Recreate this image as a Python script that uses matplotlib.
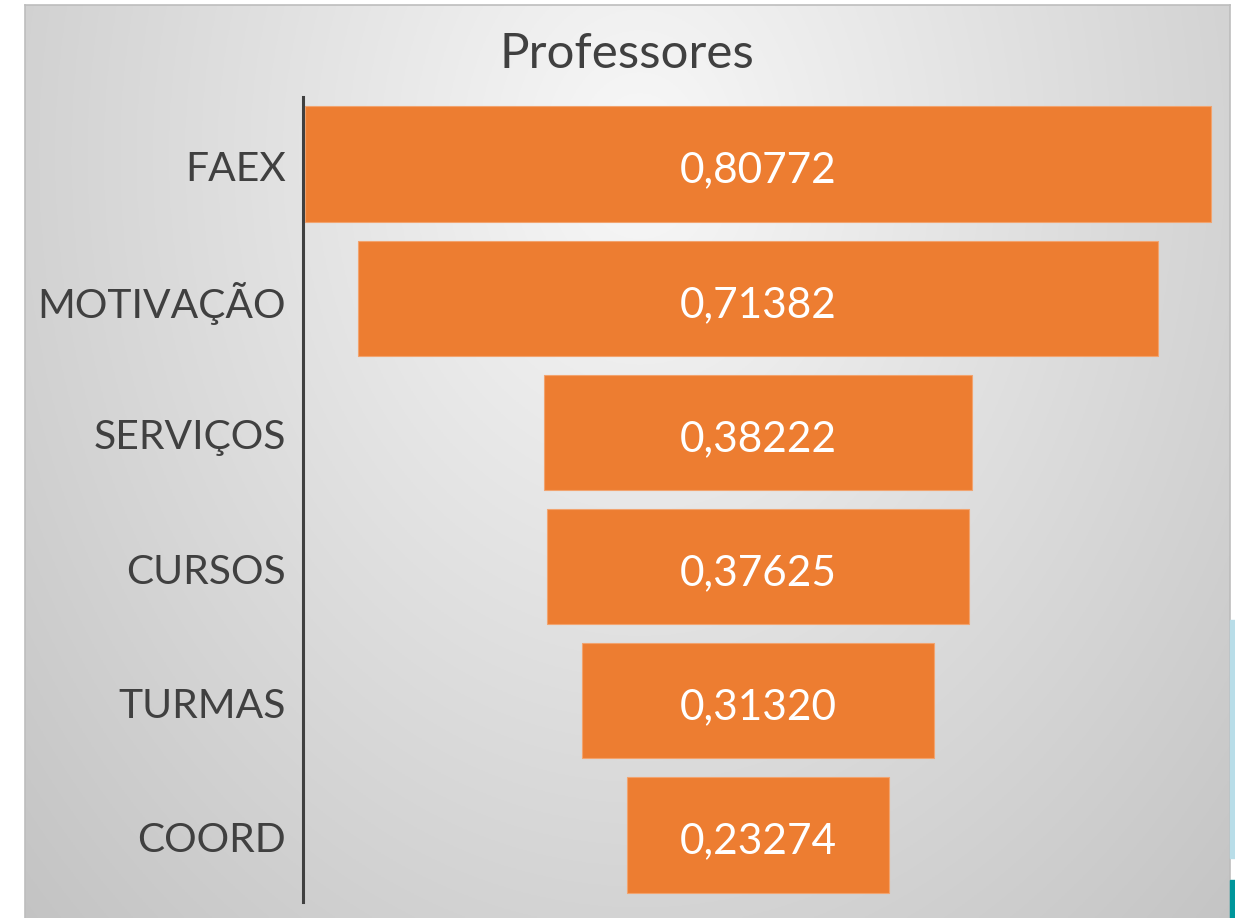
import numpy as np
import matplotlib.pyplot as plt
from matplotlib.patches import Rectangle

categorias = ["FAEX", "MOTIVAÇÃO", "SERVIÇOS", "CURSOS", "TURMAS", "COORD"]
valores = [0.80772, 0.71382, 0.38222, 0.37625, 0.31320, 0.23274]
rotulos = ["0,80772", "0,71382", "0,38222", "0,37625", "0,31320", "0,23274"]
titulo = "Professores"

plt.rcParams['font.family'] = ['Lato', 'DejaVu Sans']

W, H = 1235, 918
fig = plt.figure(figsize=(W / 100, H / 100), dpi=100)
fig.patch.set_facecolor('white')

# painel de fundo com gradiente radial
px0, px1, py0, py1 = 25, 1230, 5, 918
bg = fig.add_axes([px0 / W, 0, (px1 - px0) / W, (py1 - py0) / H])
xx, yy = np.meshgrid(np.linspace(0, px1 - px0, 400), np.linspace(0, py1 - py0, 400))
r = np.sqrt(((xx - 615) / 700) ** 2 + ((yy - 150) / 900) ** 2)
g = np.clip(248 - 43 * r, 190, 250) / 255
bg.imshow(np.dstack([g, g, g]), aspect='auto', extent=(0, 1, 0, 1), origin='upper')
bg.set_xticks([])
bg.set_yticks([])
for s in bg.spines.values():
    s.set_color('#bdbdbd')
    s.set_linewidth(1.2)
bg.spines['bottom'].set_visible(False)
bg.set_zorder(0)

# pequenos detalhes na borda direita
fig.patches.append(Rectangle((1230 / W, 1 - 858 / H), 5 / W, 238 / H,
                             transform=fig.transFigure, color='#b8dde8', zorder=1))
fig.patches.append(Rectangle((1230 / W, 0), 5 / W, 38 / H,
                             transform=fig.transFigure, color='#00969b', zorder=1))

# funil
ax = fig.add_axes([303 / W, 1 - 902 / H, (1213 - 303) / W, (902 - 97) / H])
ax.set_zorder(2)
ax.patch.set_visible(False)
y = np.arange(len(categorias))
v = np.array(valores)
ax.barh(y, v, left=-v / 2, height=0.86, color='#ED7D31', edgecolor='#f2a36e', linewidth=0.8)
for yi, lab in zip(y, rotulos):
    ax.text(0, yi + 0.138, lab, ha='center', va='baseline', color='white', fontsize=30.5)

L = (1213 - 303) / 2 / 1121.7
ax.set_xlim(-L, L)
ax.set_ylim(len(categorias) - 0.5, -0.5)
ax.set_xticks([])
ax.set_yticks(y + 0.015)
ax.set_yticklabels(categorias, fontsize=29.3, color='#404040')
ax.tick_params(axis='y', length=0, pad=12.5)
for s in ['top', 'right', 'bottom']:
    ax.spines[s].set_visible(False)
ax.spines['left'].set_color('#404040')
ax.spines['left'].set_linewidth(2.2)

fig.text(627 / W, 1 - 68 / H, titulo, ha='center', va='baseline', fontsize=35.5, color='#404040')

fig.savefig('out.png', dpi=100)
